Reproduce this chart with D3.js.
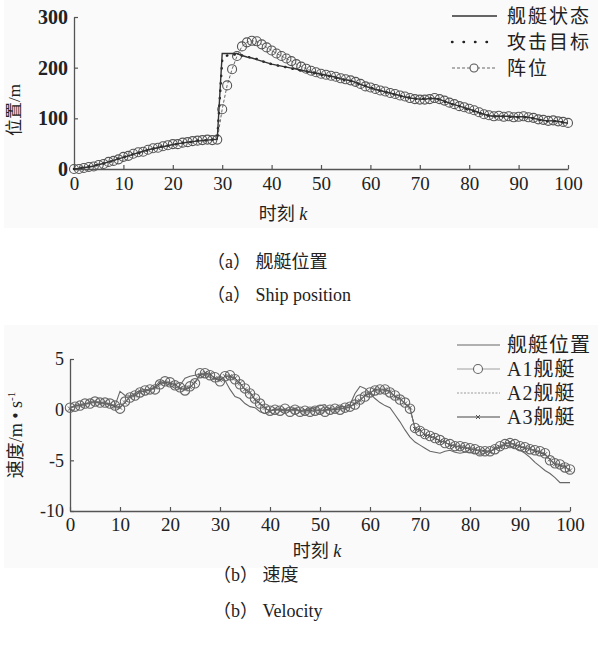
<!DOCTYPE html>
<html>
<head>
<meta charset="utf-8">
<script src="https://cdn.jsdelivr.net/npm/d3@7"></script>
<style>
  body { margin: 0; background: #fff; }
  svg text { fill: #222; }
  .cjk { font-family: "Liberation Serif", "Noto Sans CJK SC", serif; }
</style>
</head>
<body>
<div id="chart"></div>
<script>
// time step k = 0..100
var steps = d3.range(0, 101);

// (a) position series
var shipState = [0,1,3,4,6,9,11,14,17,20,23,26,29,32,35,38,40,42,44,46,48,50,51,53,54,55,56,57,58,59,
  228,228,228,228,224,221,219,216,213,210,207,205,203,201,199,197,195,193,191,189,187,
  185,183,181,178,176,174,171,167,163,160,157,155,152,150,147,145,142,140,139,138,
  138,139,139,137,134,130,127,124,121,118,115,111,108,105,104,104,104,104,103,103,
  103,102,100,98,96,95,95,94,92,90];
var attackTarget = [0,2,3,5,7,8,11,13,17,21,23,27,29,31,35,37,40,43,45,46,47,50,52,52,54,56,57,56,58,60,
  215,224,226,226,224,222,219,217,213,210,207,205,202,201,198,197,194,193,190,189,186,
  184,183,180,178,175,174,170,167,164,160,158,154,152,149,147,144,142,141,139,138,
  139,139,140,137,133,130,126,124,120,117,114,111,107,105,104,103,104,103,103,102,
  103,101,100,97,96,94,95,93,92,89];
var formation = [0,0,2,4,5,8,10,14,16,19,24,26,30,33,34,38,41,42,45,47,49,49,52,53,55,56,57,58,57,58,
  118,165,197,223,242,250,253,252,246,240,234,228,223,218,213,207,202,198,194,191,188,
  186,184,182,179,177,175,172,168,163,161,158,155,153,150,148,145,143,140,138,137,
  137,138,140,138,135,131,128,124,122,119,116,112,108,106,104,105,103,104,102,103,
  104,102,101,98,97,95,96,94,93,91];

// (b) velocity series
var shipVel = [0.2,0.4,0.5,0.6,0.7,0.8,0.7,0.6,0.5,0.4,
  1.8,1.4,1.3,1.6,1.9,2.0,1.9,2.3,2.8,2.6,
  2.4,2.1,2.4,3.1,3.3,3.4,3.5,3.4,3.2,3.0,
  3.2,2.9,2.0,1.3,1.1,0.6,0.3,0.2,-0.2,-0.4,
  -0.1,0.0,0.1,-0.1,0.0,0.1,-0.1,0.0,0.1,0.2,
  0.4,0.5,-0.1,0.1,0.3,0.3,0.5,1.6,2.3,2.1,
  1.6,1.1,0.7,0.4,0.2,-0.5,-1.2,-2.0,-2.7,-3.2,
  -3.5,-3.8,-4.1,-4.2,-4.3,-4.1,-4.0,-4.2,-4.3,-4.2,
  -4.2,-4.3,-4.4,-4.3,-4.1,-3.9,-3.7,-3.5,-3.6,-3.8,
  -4.0,-4.3,-4.7,-5.2,-5.6,-6.0,-6.3,-6.7,-7.2,-7.2,-7.2];
var a1Vel = [0.2,0.3,0.4,0.6,0.6,0.8,0.7,0.7,0.6,0.4,
  0.1,0.8,1.2,1.4,1.7,1.9,2.0,2.0,2.5,2.8,
  2.7,2.4,2.2,1.9,2.3,2.6,3.6,3.6,3.4,3.2,
  2.8,3.3,3.4,3.0,2.5,2.1,1.6,1.1,0.6,0.1,
  -0.1,0.0,-0.1,0.1,-0.2,0.0,-0.2,-0.1,-0.2,-0.1,
  0.0,-0.2,0.0,0.1,0.0,0.2,0.3,0.5,1.0,1.3,
  1.7,1.9,2.0,2.0,1.7,1.4,1.0,0.7,0.1,-1.8,
  -2.1,-2.4,-2.6,-2.8,-3.0,-3.3,-3.4,-3.6,-3.6,-3.7,
  -3.8,-3.9,-4.1,-4.1,-4.1,-3.9,-3.6,-3.4,-3.3,-3.4,
  -3.6,-3.7,-3.9,-4.0,-4.1,-4.3,-5.0,-5.3,-5.4,-5.7,-5.9];
var a2Vel = [0.3,0.3,0.5,0.5,0.7,0.7,0.8,0.6,0.5,0.4,
  0.2,0.9,1.1,1.5,1.6,1.9,2.1,2.1,2.4,2.8,
  2.6,2.3,2.1,2.0,2.4,2.7,3.5,3.7,3.3,3.1,
  2.9,3.2,3.3,2.9,2.4,2.0,1.5,1.0,0.5,0.0,
  0.0,-0.1,0.0,0.0,-0.1,-0.1,-0.1,0.0,-0.1,-0.2,
  0.1,-0.1,0.1,0.0,0.1,0.2,0.4,0.6,1.1,1.4,
  1.8,1.9,2.1,1.9,1.6,1.3,0.9,0.6,0.0,-1.7,
  -2.2,-2.4,-2.7,-2.9,-3.1,-3.2,-3.5,-3.5,-3.7,-3.8,
  -3.9,-4.0,-4.0,-4.2,-4.0,-3.8,-3.5,-3.3,-3.4,-3.5,
  -3.7,-3.8,-4.0,-4.1,-4.2,-4.5,-5.1,-5.2,-5.5,-5.8,-6.0];
var a3Vel = [0.1,0.4,0.4,0.5,0.7,0.8,0.6,0.7,0.5,0.3,
  0.2,0.7,1.3,1.4,1.8,1.8,2.0,2.2,2.6,2.7,
  2.6,2.5,2.1,2.0,2.2,2.7,3.4,3.6,3.5,3.1,
  2.9,3.3,3.3,3.1,2.6,2.0,1.7,1.0,0.6,0.2,
  -0.2,0.1,-0.1,0.0,-0.1,0.1,-0.2,-0.1,-0.1,0.0,
  -0.1,-0.1,0.1,0.0,0.1,0.1,0.3,0.6,0.9,1.4,
  1.6,2.0,1.9,2.0,1.8,1.3,1.1,0.6,0.2,-1.9,
  -2.0,-2.5,-2.6,-2.8,-3.1,-3.2,-3.5,-3.6,-3.7,-3.7,
  -3.9,-3.9,-4.1,-4.0,-4.2,-3.8,-3.7,-3.4,-3.2,-3.5,
  -3.6,-3.8,-3.8,-4.1,-4.2,-4.4,-4.9,-5.4,-5.5,-5.6,-6.0];

var xTicks = [0,10,20,30,40,50,60,70,80,90,100];
var posTicks = [0,100,200,300];
var velTicks = [-10,-5,0,5];
var posLegend = ["舰艇状态", "攻击目标", "阵位"];
var velLegend = ["舰艇位置", "A1舰艇", "A2舰艇", "A3舰艇"];

var serif = "Liberation Serif, DejaVu Serif, serif";

var svg = d3.select("#chart").append("svg")
  .attr("width", 598)
  .attr("height", 649);

// faint panel backgrounds
svg.append("rect").attr("x", 4).attr("y", 0).attr("width", 594).attr("height", 228).attr("fill", "#fafafa");
svg.append("rect").attr("x", 4).attr("y", 325).attr("width", 594).attr("height", 243).attr("fill", "#fafafa");

function styleAxis(g) {
  g.attr("font-family", serif).attr("font-size", 19);
  g.select(".domain").attr("stroke", "#555").attr("stroke-width", 1.3);
  g.selectAll(".tick line").attr("stroke", "#555").attr("stroke-width", 1.2);
  g.selectAll(".tick text").attr("fill", "#222");
}
var plain = function(d) { return String(d); };

// ---------- (a) position ----------
var x1 = d3.scaleLinear().domain([0, 100]).range([74, 568]);
var y1 = d3.scaleLinear().domain([0, 300]).range([169, 17]);

svg.append("g")
  .attr("transform", "translate(0,169)")
  .call(d3.axisBottom(x1).tickValues(xTicks).tickFormat(plain).tickSize(-4).tickSizeOuter(0).tickPadding(8))
  .call(styleAxis);
svg.append("g")
  .attr("transform", "translate(74,0)")
  .call(d3.axisLeft(y1).tickValues(posTicks).tickFormat(plain).tickSize(-4).tickSizeOuter(0).tickPadding(6))
  .call(styleAxis)
  .attr("font-size", 20).attr("font-weight", "bold");

var line1 = d3.line().x(function(d, i) { return x1(i); }).y(function(d) { return y1(d); });

// 阵位: dashed line with open circles
svg.append("path").datum(formation)
  .attr("d", line1).attr("fill", "none")
  .attr("stroke", "#666").attr("stroke-width", 1).attr("stroke-dasharray", "3,2");
svg.append("g").selectAll("circle")
  .data(formation).enter().append("circle")
  .attr("cx", function(d, i) { return x1(i); })
  .attr("cy", function(d) { return y1(d); })
  .attr("r", 4.5)
  .attr("fill", "none").attr("stroke", "#555").attr("stroke-width", 1.1);

// 攻击目标: dotted
svg.append("path").datum(attackTarget)
  .attr("d", line1).attr("fill", "none")
  .attr("stroke", "#222").attr("stroke-width", 2.4)
  .attr("stroke-linecap", "round").attr("stroke-dasharray", "0.5,7");

// 舰艇状态: solid
svg.append("path").datum(shipState)
  .attr("d", line1).attr("fill", "none")
  .attr("stroke", "#333").attr("stroke-width", 1.4);

// legend (a)
var leg1 = svg.append("g");
posLegend.forEach(function(name, i) {
  var ly = 16 + i * 26;
  var l = leg1.append("line").attr("x1", 452).attr("x2", 497).attr("y1", ly).attr("y2", ly);
  if (i === 0) l.attr("stroke", "#333").attr("stroke-width", 1.4);
  if (i === 1) l.attr("stroke", "#222").attr("stroke-width", 2.4).attr("stroke-linecap", "round").attr("stroke-dasharray", "0.5,11");
  if (i === 2) {
    l.attr("stroke", "#666").attr("stroke-width", 1).attr("stroke-dasharray", "3,2");
    leg1.append("circle").attr("cx", 474).attr("cy", ly).attr("r", 4)
      .attr("fill", "#fafafa").attr("stroke", "#555").attr("stroke-width", 1.1);
  }
  leg1.append("text").attr("class", "cjk")
    .attr("x", 507).attr("y", ly).attr("dy", "0.36em")
    .attr("font-size", "19px").attr("letter-spacing", "2px")
    .text(name);
});

// axis titles (a)
svg.append("text").attr("class", "cjk")
  .attr("transform", "translate(20,110) rotate(-90)")
  .attr("text-anchor", "middle").attr("font-size", "17px")
  .text("位置/m");
var xt1 = svg.append("text").attr("class", "cjk")
  .attr("x", 283).attr("y", 220).attr("text-anchor", "middle").attr("font-size", "18px");
xt1.append("tspan").text("时刻 ");
xt1.append("tspan").attr("font-style", "italic").text("k");

// captions (a)
svg.append("text").attr("class", "cjk")
  .attr("x", 207).attr("y", 268).attr("font-size", "18px")
  .text("（a）  舰艇位置");
svg.append("text").attr("class", "cjk")
  .attr("x", 207).attr("y", 301).attr("font-size", "18px")
  .text("（a）  Ship position");

// ---------- (b) velocity ----------
var x2 = d3.scaleLinear().domain([0, 100]).range([70, 570]);
var y2 = d3.scaleLinear().domain([-10, 5]).range([511, 359]);

svg.append("g")
  .attr("transform", "translate(0,511)")
  .call(d3.axisBottom(x2).tickValues(xTicks).tickFormat(plain).tickSize(-4).tickSizeOuter(0).tickPadding(7))
  .call(styleAxis);
svg.append("g")
  .attr("transform", "translate(70,0)")
  .call(d3.axisLeft(y2).tickValues(velTicks).tickFormat(plain).tickSize(-4).tickSizeOuter(0).tickPadding(6))
  .call(styleAxis)
  .attr("font-size", 18);

var line2 = d3.line().x(function(d, i) { return x2(i); }).y(function(d) { return y2(d); });

// A2: dashed light gray
svg.append("path").datum(a2Vel)
  .attr("d", line2).attr("fill", "none")
  .attr("stroke", "#999").attr("stroke-width", 1.2).attr("stroke-dasharray", "2,1.5");

// A3: dark line with x markers
svg.append("path").datum(a3Vel)
  .attr("d", line2).attr("fill", "none")
  .attr("stroke", "#444").attr("stroke-width", 1);
svg.append("g").selectAll("path")
  .data(a3Vel).enter().append("path")
  .attr("d", function(d, i) {
    var cx = x2(i), cy = y2(d), s = 2;
    return "M" + (cx - s) + "," + (cy - s) + "L" + (cx + s) + "," + (cy + s) +
      "M" + (cx - s) + "," + (cy + s) + "L" + (cx + s) + "," + (cy - s);
  })
  .attr("stroke", "#444").attr("stroke-width", 0.9);

// A1: open circles
svg.append("path").datum(a1Vel)
  .attr("d", line2).attr("fill", "none")
  .attr("stroke", "#777").attr("stroke-width", 0.8);
svg.append("g").selectAll("circle")
  .data(a1Vel).enter().append("circle")
  .attr("cx", function(d, i) { return x2(i); })
  .attr("cy", function(d) { return y2(d); })
  .attr("r", 4.7)
  .attr("fill", "none").attr("stroke", "#666").attr("stroke-width", 1.1);

// ship: thin solid gray
svg.append("path").datum(shipVel)
  .attr("d", line2).attr("fill", "none")
  .attr("stroke", "#666").attr("stroke-width", 1.1);

// legend (b)
var leg2 = svg.append("g");
velLegend.forEach(function(name, i) {
  var ly = 345 + i * 24;
  var l = leg2.append("line").attr("x1", 457).attr("x2", 500).attr("y1", ly).attr("y2", ly);
  if (i === 0) l.attr("stroke", "#666").attr("stroke-width", 1.1);
  if (i === 1) {
    l.attr("stroke", "#888").attr("stroke-width", 0.8);
    leg2.append("circle").attr("cx", 478).attr("cy", ly).attr("r", 4.5)
      .attr("fill", "#fafafa").attr("stroke", "#666").attr("stroke-width", 1.1);
  }
  if (i === 2) l.attr("stroke", "#999").attr("stroke-width", 1.2).attr("stroke-dasharray", "2,1.5");
  if (i === 3) {
    l.attr("stroke", "#444").attr("stroke-width", 1);
    leg2.append("path")
      .attr("d", "M476," + (ly - 2) + "L480," + (ly + 2) + "M476," + (ly + 2) + "L480," + (ly - 2))
      .attr("stroke", "#444").attr("stroke-width", 0.9);
  }
  leg2.append("text").attr("class", "cjk")
    .attr("x", 507).attr("y", ly).attr("dy", "0.36em")
    .attr("font-size", "20px").attr("letter-spacing", "1px")
    .text(name);
});

// axis titles (b)
var yt2 = svg.append("text").attr("class", "cjk")
  .attr("transform", "translate(22,435) rotate(-90)")
  .attr("text-anchor", "middle").attr("font-size", "18px");
yt2.append("tspan").text("速度/m • s");
yt2.append("tspan").attr("font-size", "11px").attr("dy", "-7").text("-1");
var xt2 = svg.append("text").attr("class", "cjk")
  .attr("x", 317).attr("y", 557).attr("text-anchor", "middle").attr("font-size", "18px");
xt2.append("tspan").text("时刻 ");
xt2.append("tspan").attr("font-style", "italic").text("k");

// captions (b)
svg.append("text").attr("class", "cjk")
  .attr("x", 213).attr("y", 581).attr("font-size", "18px")
  .text("（b）  速度");
svg.append("text").attr("class", "cjk")
  .attr("x", 213).attr("y", 617).attr("font-size", "18px")
  .text("（b）  Velocity");
</script>
</body>
</html>
